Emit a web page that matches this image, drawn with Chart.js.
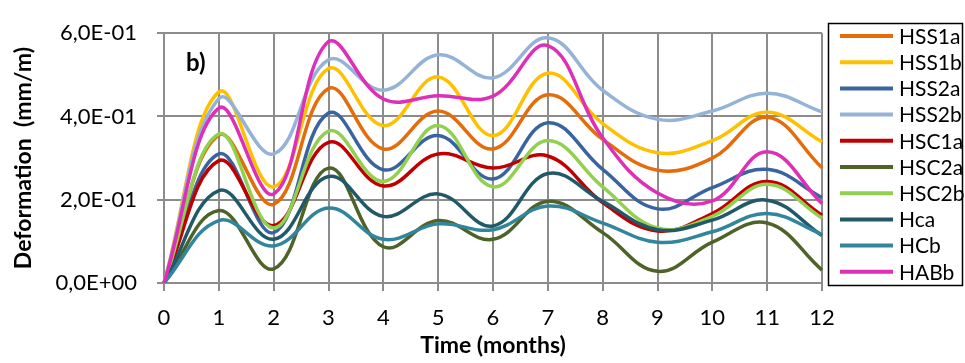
<!DOCTYPE html>
<html lang="en">
<head>
    <meta charset="UTF-8">
    <title>Deformation over time</title>
    <style>
        html, body { margin: 0; padding: 0; background: #fff; }
        .chart-box { width: 965px; height: 363px; }
    </style>
</head>
<body>
    <div class="chart-box">
        <canvas id="deformChart"></canvas>
    </div>

    <script src="https://cdn.jsdelivr.net/npm/chart.js"></script>
    <script>
        // Months on the x axis
        const months = ['0', '1', '2', '3', '4', '5', '6', '7', '8', '9', '10', '11', '12'];

        // Series values (mm/m)
        const HSS1a = [0, 0.355, 0.189, 0.467, 0.322, 0.413, 0.322, 0.452, 0.345, 0.271, 0.300, 0.398, 0.277];
        const HSS1b = [0, 0.459, 0.231, 0.515, 0.378, 0.495, 0.354, 0.504, 0.383, 0.313, 0.342, 0.410, 0.339];
        const HSS2a = [0, 0.310, 0.121, 0.408, 0.272, 0.354, 0.250, 0.385, 0.273, 0.178, 0.229, 0.273, 0.205];
        const HSS2b = [0, 0.443, 0.310, 0.536, 0.463, 0.548, 0.493, 0.589, 0.463, 0.393, 0.413, 0.456, 0.411];
        const HSC1a = [0, 0.294, 0.138, 0.338, 0.233, 0.310, 0.276, 0.305, 0.193, 0.125, 0.167, 0.244, 0.163];
        const HSC2a = [0, 0.174, 0.034, 0.276, 0.087, 0.150, 0.105, 0.196, 0.121, 0.028, 0.098, 0.144, 0.031];
        const HSC2b = [0, 0.358, 0.132, 0.365, 0.244, 0.378, 0.231, 0.342, 0.231, 0.132, 0.160, 0.237, 0.156];
        const Hca   = [0, 0.222, 0.105, 0.256, 0.160, 0.214, 0.137, 0.263, 0.196, 0.128, 0.151, 0.199, 0.114];
        const HCb   = [0, 0.150, 0.089, 0.180, 0.105, 0.142, 0.128, 0.185, 0.144, 0.098, 0.123, 0.167, 0.117];
        const HABb  = [0, 0.420, 0.214, 0.580, 0.442, 0.450, 0.449, 0.570, 0.349, 0.216, 0.197, 0.315, 0.191];

        const seriesNames = ['HSS1a', 'HSS1b', 'HSS2a', 'HSS2b', 'HSC1a', 'HSC2a', 'HSC2b', 'Hca', 'HCb', 'HABb'];
        const seriesValues = [HSS1a, HSS1b, HSS2a, HSS2b, HSC1a, HSC2a, HSC2b, Hca, HCb, HABb];
        const seriesColors = ['#E46C0A', '#FFC000', '#3A64A0', '#95B3D7', '#C00000',
                              '#4F6228', '#92D050', '#215968', '#31859C', '#DE2FB8'];

        const yTicks = [0, 0.2, 0.4, 0.6];

        // 6,0E-01 style labels
        function sciLabel(v) {
            const parts = Number(v).toExponential(1).split('e');
            const exp = parseInt(parts[1], 10);
            const sign = exp < 0 ? '-' : '+';
            return parts[0].replace('.', ',') + 'E' + sign + String(Math.abs(exp)).padStart(2, '0');
        }

        // Boxed legend on the right, plus the "b)" panel tag
        const boxedLegend = {
            id: 'boxedLegend',
            afterDraw(chart) {
                const ctx = chart.ctx;
                const area = chart.chartArea;
                ctx.save();

                ctx.fillStyle = '#000';
                ctx.font = 'bold 24px Lato';
                ctx.textAlign = 'left';
                ctx.textBaseline = 'alphabetic';
                ctx.fillText('b)', area.left + 22, area.top + 38);

                const left = area.right + 6;
                const top = 23;
                ctx.strokeStyle = '#000';
                ctx.lineWidth = 1.5;
                ctx.strokeRect(left + 0.5, top + 0.5, 134, 262);

                ctx.font = '21px Lato';
                ctx.textBaseline = 'middle';
                seriesNames.forEach((name, i) => {
                    const y = top + 13 + i * 26.2;
                    ctx.strokeStyle = seriesColors[i];
                    ctx.lineWidth = 4;
                    ctx.beginPath();
                    ctx.moveTo(left + 12, y);
                    ctx.lineTo(left + 65, y);
                    ctx.stroke();
                    ctx.fillStyle = '#000';
                    ctx.fillText(name, left + 71, y + 1);
                });
                ctx.restore();
            }
        };

        const ctx = document.getElementById('deformChart').getContext('2d');
        new Chart(ctx, {
            type: 'line',
            data: {
                labels: months,
                datasets: seriesNames.map((name, i) => ({
                    label: name,
                    data: seriesValues[i],
                    borderColor: seriesColors[i],
                    backgroundColor: seriesColors[i],
                    borderWidth: 3.5,
                    pointRadius: 0,
                    tension: 0.4,
                    fill: false,
                    order: seriesNames.length - i
                }))
            },
            options: {
                responsive: true,
                maintainAspectRatio: false,
                animation: false,
                layout: { padding: { top: 20, right: 143, left: 0, bottom: 0 } },
                plugins: {
                    legend: { display: false },
                    tooltip: { enabled: false }
                },
                scales: {
                    x: {
                        afterFit(scale) { scale.height = 80; },
                        grid: { color: '#8c8c8c', lineWidth: 2, tickLength: 8 },
                        border: { color: '#8c8c8c', width: 2 },
                        ticks: {
                            color: '#000',
                            font: { family: 'Lato', size: 22 },
                            padding: 14,
                            maxRotation: 0
                        },
                        title: {
                            display: true,
                            text: 'Time (months)',
                            color: '#000',
                            font: { family: 'Lato', size: 23, weight: 'bold' },
                            padding: { top: 0, bottom: 4 }
                        }
                    },
                    y: {
                        min: 0,
                        max: 0.6,
                        afterFit(scale) { scale.width = 164; },
                        afterBuildTicks(scale) {
                            scale.ticks = yTicks.map(v => ({ value: v }));
                        },
                        grid: { color: '#8c8c8c', lineWidth: 2, tickLength: 7 },
                        border: { color: '#8c8c8c', width: 2 },
                        ticks: {
                            color: '#000',
                            font: { family: 'Lato', size: 22 },
                            padding: 20,
                            callback: (v) => sciLabel(v)
                        },
                        title: {
                            display: true,
                            text: 'Deformation  (mm/m)',
                            color: '#000',
                            font: { family: 'Lato', size: 23, weight: 'bold' },
                            padding: { top: 10, bottom: 0 }
                        }
                    }
                }
            },
            plugins: [boxedLegend]
        });
    </script>
</body>
</html>
